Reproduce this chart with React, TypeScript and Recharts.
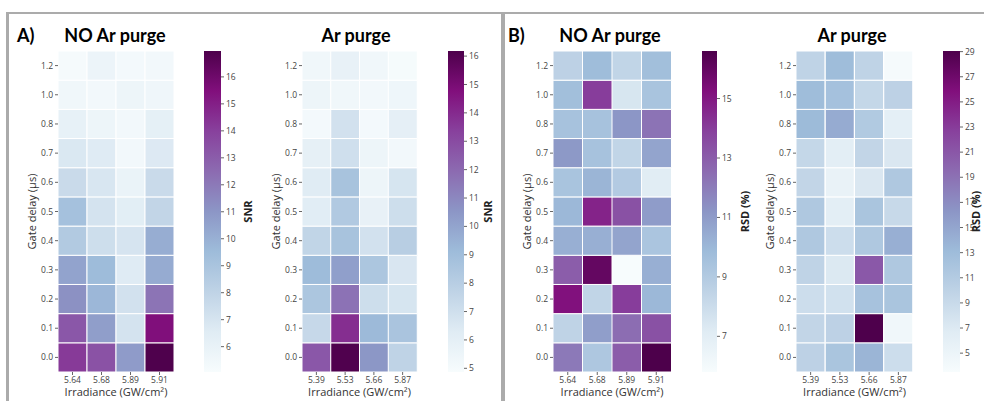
import React from 'react';
import { BarChart, Bar, XAxis, YAxis, Cell } from 'recharts';

// ---------- data ----------
const gateDelays = ['1.2', '1.0', '0.8', '0.7', '0.6', '0.5', '0.4', '0.3', '0.2', '0.1', '0.0'];
const irrNoPurge = ['5.64', '5.68', '5.89', '5.91'];
const irrPurge = ['5.39', '5.53', '5.66', '5.87'];

const snrNoPurge = [
  [5.2, 5.8, 5.3, 5.4],
  [5.5, 5.4, 5.7, 5.6],
  [6.1, 5.7, 5.4, 6.2],
  [6.8, 6.6, 5.4, 6.7],
  [7.6, 6.9, 5.9, 7.6],
  [9.2, 7.1, 6.4, 7.9],
  [8.6, 7.4, 7.0, 10.1],
  [10.5, 9.5, 6.6, 10.2],
  [11.2, 9.7, 7.2, 12.2],
  [13.2, 10.7, 7.1, 15.5],
  [14.2, 13.4, 10.8, 16.9],
];
const snrPurge = [
  [5.3, 5.8, 5.3, 5.0],
  [5.5, 5.3, 5.2, 5.4],
  [5.1, 6.9, 5.1, 6.0],
  [5.9, 7.0, 5.5, 5.2],
  [6.3, 8.7, 5.5, 6.7],
  [6.2, 8.3, 5.8, 7.1],
  [7.6, 8.7, 6.9, 8.0],
  [9.1, 10.2, 8.5, 6.6],
  [8.5, 11.7, 7.1, 6.7],
  [7.4, 13.9, 9.2, 8.6],
  [12.6, 16.1, 10.5, 7.7],
];
const rsdNoPurge = [
  [8.6, 9.8, 8.4, 9.7],
  [9.7, 14.0, 7.5, 9.4],
  [9.5, 9.5, 11.2, 12.3],
  [11.1, 9.5, 8.4, 10.7],
  [9.4, 10.1, 9.0, 7.1],
  [10.0, 14.7, 13.4, 11.0],
  [10.3, 10.3, 10.7, 9.3],
  [13.0, 16.0, 5.8, 10.3],
  [15.2, 8.4, 14.0, 10.0],
  [8.5, 10.9, 12.5, 13.4],
  [12.1, 9.2, 13.0, 16.6],
];
const rsdPurge = [
  [9.9, 13.0, 9.9, 3.8],
  [13.0, 12.4, 9.4, 10.1],
  [13.2, 14.5, 11.2, 6.1],
  [9.4, 6.3, 9.6, 7.3],
  [9.6, 5.5, 7.3, 11.4],
  [11.4, 6.3, 11.9, 9.1],
  [11.4, 8.6, 11.4, 14.2],
  [9.9, 7.1, 20.9, 11.4],
  [8.6, 8.1, 12.2, 11.9],
  [9.6, 10.1, 29.0, 4.5],
  [10.1, 11.9, 13.7, 8.6],
];

const snrNoPurgeTicks = [6, 7, 8, 9, 10, 11, 12, 13, 14, 15, 16];
const snrPurgeTicks = [5, 6, 7, 8, 9, 10, 11, 12, 13, 14, 15, 16];
const rsdNoPurgeTicks = [7, 9, 11, 13, 15];
const rsdPurgeTicks = [5, 7, 9, 11, 13, 15, 17, 19, 21, 23, 25, 27, 29];

// ---------- colormap (BuPu) ----------
const BUPU = ['#f7fcfd', '#e0ecf4', '#bfd3e6', '#9ebcda', '#8c96c6', '#8c6bb1', '#88419d', '#810f7c', '#4d004b'];
function hexToRgb(h: string) {
  return [parseInt(h.slice(1, 3), 16), parseInt(h.slice(3, 5), 16), parseInt(h.slice(5, 7), 16)];
}
function bupu(t: number) {
  const c = Math.max(0, Math.min(1, t)) * (BUPU.length - 1);
  const i = Math.min(BUPU.length - 2, Math.floor(c));
  const f = c - i;
  const a = hexToRgb(BUPU[i]);
  const b = hexToRgb(BUPU[i + 1]);
  const m = a.map((v, k) => Math.round(v + (b[k] - v) * f));
  return `rgb(${m[0]},${m[1]},${m[2]})`;
}

const AXIS_FONT = '"Open Sans", sans-serif';
const TICK_STYLE = { fontSize: 8.5, fill: '#444', fontFamily: AXIS_FONT };

// ---------- heatmap ----------
function Heatmap({ left, top, width, height, cols, values, vmin, vmax }: any) {
  const nRows = gateDelays.length;
  const data = cols.map((c: string) => {
    const o: any = { name: c };
    for (let k = 0; k < nRows; k++) o['r' + k] = 1;
    return o;
  });
  const yTicks = gateDelays.map((_, k) => k + 0.5);
  const yW = 50;
  const mTop = 10;
  const xH = 28;
  return (
    <div style={{ position: 'absolute', left: left - yW, top: top - mTop }}>
      <BarChart
        width={width + yW + 5}
        height={height + mTop + xH}
        data={data}
        margin={{ top: mTop, right: 5, bottom: 0, left: 0 }}
        barCategoryGap={0}
        barGap={0}
      >
        <XAxis
          dataKey="name"
          axisLine={false}
          tickLine={{ stroke: '#666' }}
          tickSize={3}
          tick={TICK_STYLE}
          height={xH}
          interval={0}
          label={{ value: 'Irradiance (GW/cm²)', position: 'insideBottom', offset: 4, style: { fontSize: 11, fill: '#333', fontFamily: AXIS_FONT } }}
        />
        <YAxis
          type="number"
          domain={[0, nRows]}
          ticks={yTicks}
          interval={0}
          allowDataOverflow
          width={yW}
          axisLine={false}
          tickLine={{ stroke: '#666' }}
          tickSize={3}
          tick={TICK_STYLE}
          tickFormatter={(v: number) => gateDelays[nRows - 1 - Math.floor(v)]}
          label={{ value: 'Gate delay (μs)', angle: -90, position: 'insideLeft', offset: 24, style: { textAnchor: 'middle', fontSize: 11, fill: '#333', fontFamily: AXIS_FONT } }}
        />
        {gateDelays.map((_, k) => {
          const rowIdx = nRows - 1 - k;
          return (
            <Bar key={k} dataKey={'r' + k} stackId="s" isAnimationActive={false} stroke="#fff" strokeWidth={1}>
              {cols.map((c: string, ci: number) => (
                <Cell key={c} fill={bupu((values[rowIdx][ci] - vmin) / (vmax - vmin))} />
              ))}
            </Bar>
          );
        })}
      </BarChart>
    </div>
  );
}

// ---------- colorbar ----------
function ColorBar({ id, left, top, width, height, vmin, vmax, ticks, label, labelOffset }: any) {
  const m = 10;
  const yW = 60;
  const data = [{ name: 'cb', range: [vmin, vmax] }];
  return (
    <div style={{ position: 'absolute', left, top: top - m }}>
      <BarChart
        width={width + yW}
        height={height + 2 * m}
        data={data}
        margin={{ top: m, right: 0, bottom: m, left: 0 }}
        barCategoryGap={0}
      >
        <defs>
          <linearGradient id={id} x1="0" y1="1" x2="0" y2="0">
            {BUPU.map((c, i) => (
              <stop key={i} offset={`${(i / (BUPU.length - 1)) * 100}%`} stopColor={c} />
            ))}
          </linearGradient>
        </defs>
        <XAxis dataKey="name" hide />
        <YAxis
          orientation="right"
          type="number"
          domain={[vmin, vmax]}
          ticks={ticks}
          interval={0}
          allowDataOverflow
          width={yW}
          axisLine={false}
          tickLine={{ stroke: '#666' }}
          tickSize={3}
          tick={TICK_STYLE}
          label={{ value: label, angle: -90, position: 'insideLeft', offset: labelOffset, style: { textAnchor: 'middle', fontSize: 11, fontWeight: 'bold', fill: '#222', fontFamily: AXIS_FONT } }}
        />
        <Bar dataKey="range" fill={`url(#${id})`} isAnimationActive={false} />
      </BarChart>
    </div>
  );
}

function Title({ text, cx, top }: any) {
  return (
    <div style={{ position: 'absolute', left: cx - 100, top, width: 200, textAlign: 'center', fontFamily: 'Lato, sans-serif', fontWeight: 'bold', fontSize: 18, lineHeight: '20px', color: '#000' }}>
      {text}
    </div>
  );
}
function PanelLetter({ text, left, top }: any) {
  return (
    <div style={{ position: 'absolute', left, top, fontFamily: 'Lato, sans-serif', fontWeight: 'bold', fontSize: 18, lineHeight: '20px', color: '#000' }}>
      {text}
    </div>
  );
}

const BORDER = '#ababab';

export default function App() {
  const top = 51;
  const h = 321;
  return (
    <div style={{ position: 'absolute', left: 0, top: 0, width: 984, height: 401, background: '#fff', overflow: 'hidden' }}>
      <div style={{ position: 'absolute', left: 6, top: 12, width: 978, height: 2, background: BORDER }} />
      <div style={{ position: 'absolute', left: 6, top: 12, width: 3, height: 389, background: BORDER }} />
      <div style={{ position: 'absolute', left: 501, top: 12, width: 4, height: 389, background: BORDER }} />

      <PanelLetter text="A)" left={17} top={25} />
      <PanelLetter text="B)" left={508} top={25} />
      <Title text="NO Ar purge" cx={115} top={25} />
      <Title text="Ar purge" cx={356} top={25} />
      <Title text="NO Ar purge" cx={610} top={25} />
      <Title text="Ar purge" cx={852} top={25} />

      <Heatmap left={58} top={top} width={116} height={h} cols={irrNoPurge} values={snrNoPurge} vmin={5.06} vmax={16.96} />
      <ColorBar id="cb1" left={204} top={top} width={17} height={h} vmin={5.06} vmax={16.96} ticks={snrNoPurgeTicks} label="SNR" labelOffset={27} />

      <Heatmap left={302} top={top} width={115} height={h} cols={irrPurge} values={snrPurge} vmin={4.87} vmax={16.18} />
      <ColorBar id="cb2" left={448} top={top} width={16} height={h} vmin={4.87} vmax={16.18} ticks={snrPurgeTicks} label="SNR" labelOffset={24} />

      <Heatmap left={553} top={top} width={118} height={h} cols={irrNoPurge} values={rsdNoPurge} vmin={5.8} vmax={16.6} />
      <ColorBar id="cb3" left={702} top={top} width={15} height={h} vmin={5.8} vmax={16.6} ticks={rsdNoPurgeTicks} label="RSD (%)" labelOffset={28} />

      <Heatmap left={796} top={top} width={117} height={h} cols={irrPurge} values={rsdPurge} vmin={3.5} vmax={29.05} />
      <ColorBar id="cb4" left={943} top={top} width={17} height={h} vmin={3.5} vmax={29.05} ticks={rsdPurgeTicks} label="RSD (%)" labelOffset={16} />
    </div>
  );
}
